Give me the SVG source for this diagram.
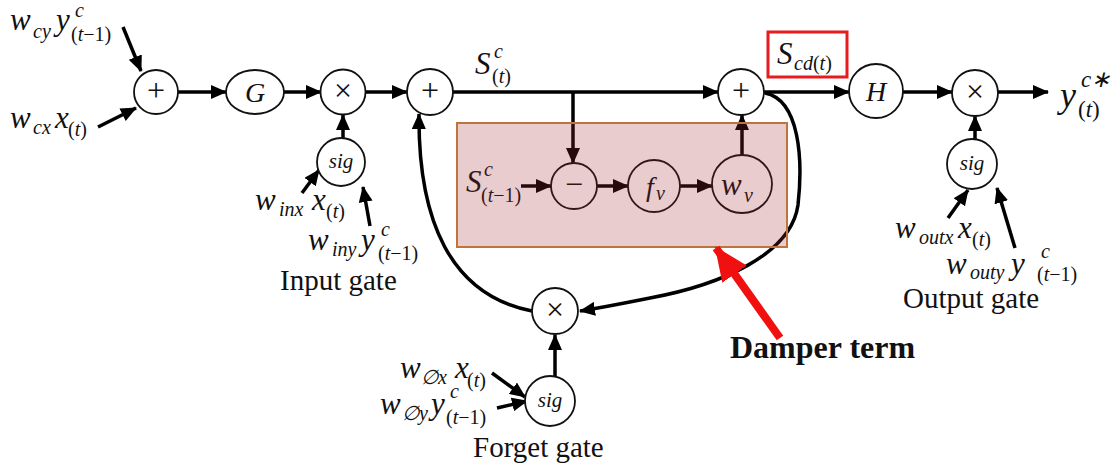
<svg xmlns="http://www.w3.org/2000/svg" width="1115" height="466" viewBox="0 0 1115 466">
<style>
.mi{font-family:"Liberation Serif",serif;font-style:italic;font-size:31px;fill:#111}
.sb{font-family:"Liberation Serif",serif;font-style:italic;font-size:20px;fill:#111}
.up{font-style:normal}
.lb{font-family:"Liberation Serif",serif;font-size:29px;fill:#111}
.nd{fill:#fff;stroke:#111;stroke-width:1.8}
.op{font-family:"Liberation Serif",serif;font-size:32px;fill:#111;text-anchor:middle}
.opi{font-family:"Liberation Serif",serif;font-style:italic;font-size:28px;fill:#111;text-anchor:middle}
.ln{fill:none;stroke:#000;stroke-width:3.5}
</style>
<defs>
<marker id="ah" markerUnits="userSpaceOnUse" markerWidth="16" markerHeight="14" refX="15" refY="7" orient="auto">
<path d="M0,0 L16,7 L0,14 z" fill="#000"/>
</marker>
<marker id="ahr" markerUnits="userSpaceOnUse" markerWidth="34" markerHeight="30" refX="32" refY="15" orient="auto">
<path d="M0,0 L34,15 L0,30 z" fill="#f01010"/>
</marker>
</defs>

<g id="connectors">
<line class="ln" x1="123" y1="27" x2="141" y2="71" marker-end="url(#ah)"/>
<line class="ln" x1="98" y1="127" x2="136" y2="108" marker-end="url(#ah)"/>
<line class="ln" x1="178" y1="92" x2="226" y2="92" marker-end="url(#ah)"/>
<line class="ln" x1="284" y1="92" x2="321" y2="92" marker-end="url(#ah)"/>
<line class="ln" x1="366" y1="92" x2="407" y2="92" marker-end="url(#ah)"/>
<line class="ln" x1="343" y1="138" x2="343" y2="115" marker-end="url(#ah)"/>
<line class="ln" x1="302" y1="193" x2="319" y2="170" marker-end="url(#ah)"/>
<line class="ln" x1="370" y1="226" x2="363" y2="187" marker-end="url(#ah)"/>
<line class="ln" x1="453" y1="92" x2="718" y2="92" marker-end="url(#ah)"/>
<line class="ln" x1="573" y1="92" x2="573" y2="163" marker-end="url(#ah)"/>
<line class="ln" x1="521" y1="186" x2="551" y2="186" marker-end="url(#ah)"/>
<line class="ln" x1="597" y1="186" x2="628" y2="186" marker-end="url(#ah)"/>
<line class="ln" x1="680" y1="186" x2="712" y2="186" marker-end="url(#ah)"/>
<line class="ln" x1="742" y1="155" x2="742" y2="115" marker-end="url(#ah)"/>
<line class="ln" x1="764" y1="92" x2="849" y2="92" marker-end="url(#ah)"/>
<line class="ln" x1="903" y1="92" x2="952" y2="92" marker-end="url(#ah)"/>
<line class="ln" x1="998" y1="92" x2="1048" y2="92" marker-end="url(#ah)"/>
<line class="ln" x1="975" y1="139" x2="975" y2="116" marker-end="url(#ah)"/>
<line class="ln" x1="948" y1="218" x2="968" y2="190" marker-end="url(#ah)"/>
<line class="ln" x1="1015" y1="248" x2="997" y2="188" marker-end="url(#ah)"/>
<path class="ln" d="M765,93 C800,100 803,160 798,205 C791,255 720,285 650,298 C620,304 600,308 580,311" marker-end="url(#ah)"/>
<path class="ln" d="M532,311 C450,295 418,220 419,114" marker-end="url(#ah)"/>
<line class="ln" x1="555" y1="376" x2="555" y2="335" marker-end="url(#ah)"/>
<line class="ln" x1="492" y1="373" x2="525" y2="397" marker-end="url(#ah)"/>
<line class="ln" x1="497" y1="408" x2="527" y2="401" marker-end="url(#ah)"/>
</g>

<g id="add1"><circle class="nd" cx="156" cy="92" r="22"/><text class="op" x="156" y="101">+</text></g>
<g id="G"><ellipse class="nd" cx="255" cy="92" rx="29" ry="22"/><text class="opi" x="255" y="102">G</text></g>
<g id="mul_in"><circle class="nd" cx="343" cy="92" r="22.5"/><text class="op" x="343" y="101">×</text></g>
<g id="add2"><circle class="nd" cx="430" cy="92" r="23"/><text class="op" x="430" y="101">+</text></g>
<g id="sig_in"><circle class="nd" cx="341" cy="162" r="24"/><text class="opi" style="font-size:21px" x="341" y="168">sig</text></g>
<g id="minus"><circle class="nd" cx="574" cy="186" r="23"/><text class="op" x="574" y="195">−</text></g>
<g id="fv"><circle class="nd" cx="654" cy="186" r="26"/><text class="opi" x="650" y="196">f</text><text class="sb" x="656" y="200">v</text></g>
<g id="wv"><ellipse class="nd" cx="742" cy="184" rx="30" ry="29"/><text class="mi" x="721" y="195">w</text><text class="sb" x="744" y="202">v</text></g>
<g id="add3"><circle class="nd" cx="741" cy="92" r="23"/><text class="op" x="741" y="101">+</text></g>
<g id="H"><circle class="nd" cx="876" cy="91" r="27"/><text class="opi" x="876" y="101">H</text></g>
<g id="mul_out"><circle class="nd" cx="975" cy="93" r="23"/><text class="op" x="975" y="102">×</text></g>
<g id="sig_out"><circle class="nd" cx="972" cy="164" r="25"/><text class="opi" style="font-size:21px" x="972" y="170">sig</text></g>
<g id="mul_f"><circle class="nd" cx="555" cy="311" r="23"/><text class="op" x="555" y="320">×</text></g>
<g id="sig_f"><circle class="nd" cx="550" cy="401" r="25"/><text class="opi" style="font-size:21px" x="550" y="407">sig</text></g>

<g id="damper-inner-label">
<text class="mi" x="466" y="192">S</text><text class="sb" x="484" y="176">c</text>
<text class="sb" x="481" y="202"><tspan class="up">(</tspan>t<tspan class="up">−1)</tspan></text>
</g>

<g id="damper-box">
<rect x="457" y="123" width="330" height="124" fill="rgb(160,40,50)" fill-opacity="0.24"/>
<rect x="457" y="123" width="330" height="124" fill="none" stroke="#c0733d" stroke-width="2"/>
</g>

<g id="damper-label">
<line x1="780" y1="338" x2="716" y2="248" stroke="#f01010" stroke-width="8" marker-end="url(#ahr)"/>
<text x="730" y="358" style="font-family:'Liberation Serif',serif;font-weight:bold;font-size:32px;fill:#111">Damper term</text>
</g>

<g id="scd">
<rect x="768" y="32" width="79" height="45" fill="none" stroke="#e81c1c" stroke-width="3"/>
<text class="mi" x="777" y="64">S</text>
<text class="sb" x="794" y="70">cd<tspan class="up">(</tspan>t<tspan class="up">)</tspan></text>
</g>

<g id="labels">
<text class="mi" x="10" y="30">w</text><text class="sb" x="33" y="38">cy</text>
<text class="mi" x="56" y="30">y</text><text class="sb" x="75" y="17">c</text>
<text class="sb" x="71" y="41"><tspan class="up">(</tspan>t<tspan class="up">−1)</tspan></text>

<text class="mi" x="10" y="128">w</text><text class="sb" x="33" y="134">cx</text>
<text class="mi" x="55" y="128">x</text>
<text class="sb" x="68" y="136"><tspan class="up">(</tspan>t<tspan class="up">)</tspan></text>

<text class="mi" x="475" y="74">S</text><text class="sb" x="494" y="58">c</text>
<text class="sb" x="492" y="83"><tspan class="up">(</tspan>t<tspan class="up">)</tspan></text>

<text class="mi" x="255" y="210">w</text><text class="sb" x="279" y="216">inx</text>
<text class="mi" x="312" y="210">x</text>
<text class="sb" x="326" y="218"><tspan class="up">(</tspan>t<tspan class="up">)</tspan></text>
<text class="mi" x="308" y="250">w</text><text class="sb" x="332" y="256">iny</text>
<text class="mi" x="361" y="250">y</text><text class="sb" x="381" y="236">c</text>
<text class="sb" x="378" y="260"><tspan class="up">(</tspan>t<tspan class="up">−1)</tspan></text>
<text class="lb" x="280" y="290">Input gate</text>

<text class="mi" x="895" y="238">w</text><text class="sb" x="919" y="244">outx</text>
<text class="mi" x="958" y="238">x</text>
<text class="sb" x="972" y="246"><tspan class="up">(</tspan>t<tspan class="up">)</tspan></text>
<text class="mi" x="946" y="274">w</text><text class="sb" x="970" y="279">outy</text>
<text class="mi" x="1011" y="274">y</text><text class="sb" x="1041" y="258">c</text>
<text class="sb" x="1037" y="281"><tspan class="up">(</tspan>t<tspan class="up">−1)</tspan></text>
<text class="lb" x="903" y="308">Output gate</text>

<text class="mi" x="400" y="378">w</text><text class="sb" x="421" y="384">∅x</text>
<text class="mi" x="455" y="378">x</text>
<text class="sb" x="467" y="387"><tspan class="up">(</tspan>t<tspan class="up">)</tspan></text>
<text class="mi" x="380" y="414">w</text><text class="sb" x="402" y="420">∅y</text>
<text class="mi" x="431" y="414">y</text><text class="sb" x="450" y="398">c</text>
<text class="sb" x="446" y="424"><tspan class="up">(</tspan>t<tspan class="up">−1)</tspan></text>
<text class="lb" x="473" y="457">Forget  gate</text>

<text class="mi" style="font-size:36px" x="1060" y="107">y</text>
<text class="sb" style="font-size:23px" x="1081" y="87">c∗</text>
<text class="sb" style="font-size:23px" x="1078" y="117"><tspan class="up">(</tspan>t<tspan class="up">)</tspan></text>
</g>
</svg>
